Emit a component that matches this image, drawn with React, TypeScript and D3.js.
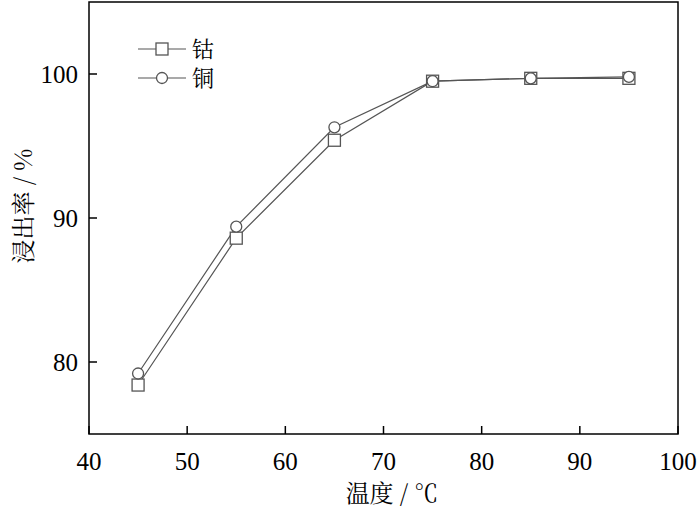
import React from 'react';
import * as d3 from 'd3';

// temperature (°C)
const temps = [45, 55, 65, 75, 85, 95];
// leaching rate (%)
const cobalt = [78.4, 88.6, 95.4, 99.5, 99.7, 99.7];
const copper = [79.2, 89.4, 96.3, 99.5, 99.7, 99.8];
const xTicks = [40, 50, 60, 70, 80, 90, 100];
const yTicks = [80, 90, 100];

const W = 700;
const H = 511;
const margin = { top: 2, right: 22, bottom: 77, left: 89 };
const width = W - margin.left - margin.right;
const height = H - margin.top - margin.bottom;
const serif = 'Liberation Serif';
const cjk = 'Noto Serif CJK SC';
const lineColor = '#555';

const x = d3.scaleLinear().domain([40, 100]).range([0, width]);
const y = d3.scaleLinear().domain([75, 105]).range([height, 0]);

const line = d3
  .line<number>()
  .x((_, i) => x(temps[i]))
  .y((d) => y(d));

const series = [
  { name: '钴', values: cobalt, shape: 'square' },
  { name: '铜', values: copper, shape: 'circle' },
];

const Marker: React.FC<{ shape: string; cx: number; cy: number }> = ({ shape, cx, cy }) =>
  shape === 'square' ? (
    <rect x={cx - 6} y={cy - 6} width={12} height={12} fill="#fff" stroke={lineColor} strokeWidth={1.3} />
  ) : (
    <circle cx={cx} cy={cy} r={5.5} fill="#fff" stroke={lineColor} strokeWidth={1.3} />
  );

const App: React.FC = () => (
  <svg width={W} height={H} style={{ display: 'block', position: 'absolute', left: 0, top: 0 }}>
    <g transform={`translate(${margin.left},${margin.top})`}>
      {/* series lines */}
      {series.map((s) => (
        <path key={s.name} d={line(s.values) || ''} fill="none" stroke={lineColor} strokeWidth={1.2} />
      ))}
      {/* markers */}
      {series.map((s) =>
        s.values.map((v, i) => <Marker key={`${s.name}-${i}`} shape={s.shape} cx={x(temps[i])} cy={y(v)} />)
      )}

      {/* frame */}
      <rect width={width} height={height} fill="none" stroke="#000" strokeWidth={1.5} />

      {/* x axis, inward ticks */}
      {xTicks.map((t) => (
        <g key={t} transform={`translate(${x(t)},${height})`}>
          <line y2={-8} stroke="#000" strokeWidth={1.5} />
          <text y={36} textAnchor="middle" fontFamily={serif} fontSize={25} fill="#000">
            {t}
          </text>
        </g>
      ))}

      {/* y axis, inward ticks */}
      {yTicks.map((t) => (
        <g key={t} transform={`translate(0,${y(t)})`}>
          <line x2={8} stroke="#000" strokeWidth={1.5} />
          <text x={-11} dy="0.35em" textAnchor="end" fontFamily={serif} fontSize={25} fill="#000">
            {t}
          </text>
        </g>
      ))}

      {/* legend */}
      {series.map((s, i) => {
        const ly = 47 + i * 29;
        return (
          <g key={s.name}>
            <line x1={49} x2={97} y1={ly} y2={ly} stroke={lineColor} strokeWidth={1.2} />
            <Marker shape={s.shape} cx={73} cy={ly} />
            <text x={103} y={ly} dy="0.36em" fontFamily={cjk} fontSize={22} fill="#000">
              {s.name}
            </text>
          </g>
        );
      })}
    </g>

    {/* axis titles */}
    <text x={392} y={502} textAnchor="middle" fontFamily={cjk} fontSize={24} fill="#000">
      温度 / ℃
    </text>
    <text transform="translate(32,206) rotate(-90)" textAnchor="middle" fontFamily={cjk} fontSize={24} fill="#000">
      浸出率 / %
    </text>
  </svg>
);

export default App;
